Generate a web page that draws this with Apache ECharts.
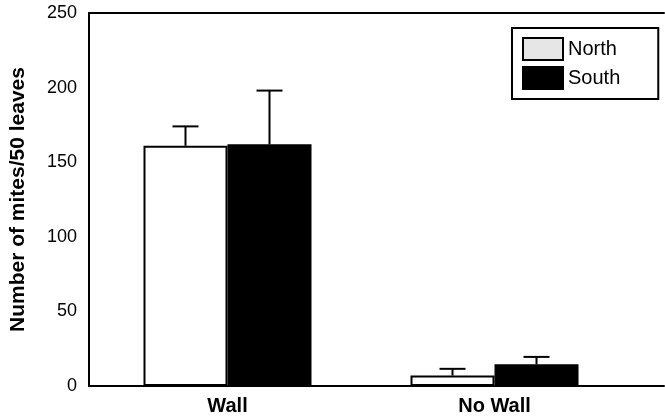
<!DOCTYPE html>
<html>
<head>
<meta charset="utf-8">
<script src="https://cdn.jsdelivr.net/npm/echarts@6/dist/echarts.min.js"></script>
<style>html,body{margin:0;padding:0;background:#fff}#c{width:665px;height:419px}</style>
</head>
<body>
<div id="c"></div>
<script>
var categories = ['Wall', 'No Wall'];
var seriesNames = ['North', 'South'];
var northValues = [161, 7];
var southValues = [162, 14.5];
var northErrTop = [174, 11.5];
var southErrTop = [198, 19.5];
var yTicks = [0, 50, 100, 150, 200, 250];

var chart = echarts.init(document.getElementById('c'));
var font = 'Liberation Sans, Arial, sans-serif';
var BW = 84;

function errSeries(name, errTop, offset) {
  return {
    type: 'custom', name: name + ' err', xAxisIndex: 2, yAxisIndex: 1, z: 5,
    data: categories.map(function (c, i) { return [i, errTop[i], (name === 'North' ? northValues : southValues)[i]]; }),
    renderItem: function (params, api) {
      var top = api.coord([api.value(0), api.value(1)]);
      var base = api.coord([api.value(0), api.value(2)]);
      var x = top[0] + offset;
      return {
        type: 'group',
        children: [
          { type: 'line', shape: { x1: x, y1: base[1], x2: x, y2: top[1] }, style: { stroke: '#000', lineWidth: 2 } },
          { type: 'line', shape: { x1: x - 13, y1: top[1], x2: x + 13, y2: top[1] }, style: { stroke: '#000', lineWidth: 2 } }
        ]
      };
    }
  };
}

chart.setOption({
  animation: false,
  backgroundColor: '#fff',
  grid: [
    { left: 89, right: 1, top: 13, bottom: 33 },
    { left: 94, width: 534, top: 13, bottom: 33 }
  ],
  legend: {
    orient: 'vertical', left: 512, top: 28,
    padding: [9, 38, 9, 10], itemGap: 5,
    itemWidth: 40, itemHeight: 22,
    borderColor: '#000', borderWidth: 2,
    textStyle: { fontFamily: font, fontSize: 20, color: '#000' },
    data: [
      { name: 'North', icon: 'rect', itemStyle: { color: '#e6e6e6', borderColor: '#000', borderWidth: 2 } },
      { name: 'South', icon: 'rect', itemStyle: { color: '#000', borderColor: '#000', borderWidth: 2 } }
    ]
  },
  xAxis: [
    { type: 'category', gridIndex: 0, data: categories, position: 'bottom',
      axisLine: { lineStyle: { color: '#000', width: 2 } }, axisTick: { show: false }, axisLabel: { show: false } },
    { type: 'category', gridIndex: 0, data: categories, position: 'top',
      axisLine: { lineStyle: { color: '#000', width: 2 } }, axisTick: { show: false }, axisLabel: { show: false } },
    { type: 'category', gridIndex: 1, data: categories,
      axisLine: { show: false }, axisTick: { show: false },
      axisLabel: { margin: 10, fontFamily: font, fontSize: 20, fontWeight: 'bold', color: '#000' } }
  ],
  yAxis: [
    { type: 'value', gridIndex: 0, min: 0, max: 250, interval: 50,
      name: 'Number of mites/50 leaves', nameLocation: 'middle', nameGap: 60,
      nameTextStyle: { fontFamily: font, fontSize: 21, fontWeight: 'bold', color: '#000' },
      axisLine: { show: true, lineStyle: { color: '#000', width: 2 } }, axisTick: { show: false },
      splitLine: { show: false },
      axisLabel: { margin: 12, fontFamily: font, fontSize: 18, color: '#000',
        formatter: function (v) { return yTicks.indexOf(v) >= 0 ? String(v) : ''; } } },
    { type: 'value', gridIndex: 1, min: 0, max: 250, interval: 50, show: false }
  ],
  series: [
    { type: 'bar', name: 'North', xAxisIndex: 2, yAxisIndex: 1, data: northValues, barWidth: BW, barGap: '0%',
      itemStyle: { color: '#fff', borderColor: '#000', borderWidth: 2 } },
    { type: 'bar', name: 'South', xAxisIndex: 2, yAxisIndex: 1, data: southValues, barWidth: BW, barGap: '0%',
      itemStyle: { color: '#000', borderColor: '#000', borderWidth: 2 } },
    errSeries('North', northErrTop, -BW / 2),
    errSeries('South', southErrTop, BW / 2)
  ]
});
</script>
</body>
</html>
